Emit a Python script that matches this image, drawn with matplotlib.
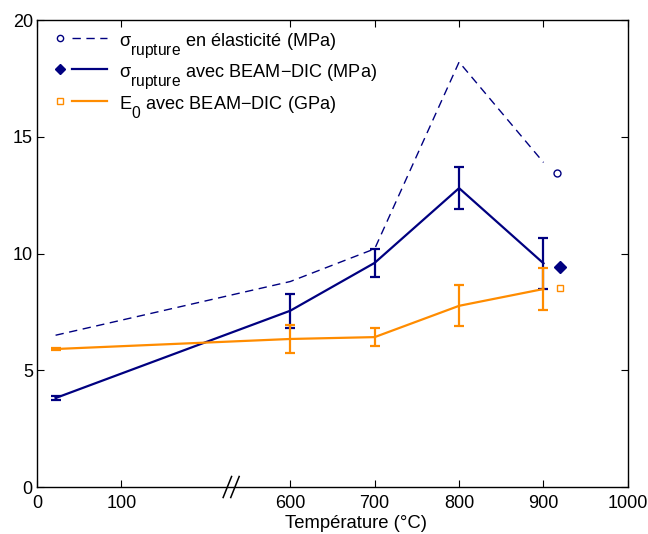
import matplotlib
matplotlib.use("Agg")
import matplotlib.pyplot as plt
from matplotlib.lines import Line2D
from matplotlib.legend_handler import HandlerBase
import matplotlib._mathtext as _mt
import numpy as np

# larger, lower subscripts (like the reference)
_mt.SHRINK_FACTOR = 0.86
try:
    _mt.FontConstantsBase.sub1 = 0.95
    _mt.FontConstantsBase.sub2 = 0.95
except Exception:
    pass

plt.rcParams['font.family'] = ['Liberation Sans', 'DejaVu Sans']
plt.rcParams['mathtext.fontset'] = 'custom'
plt.rcParams['mathtext.rm'] = 'Liberation Sans'
plt.rcParams['mathtext.it'] = 'Liberation Sans:italic'
plt.rcParams['mathtext.bf'] = 'Liberation Sans:bold'

# ---- data ----
temps = [22, 600, 700, 800, 900]
sigma_elast = [6.5, 8.8, 10.2, 18.2, 13.9]
sigma_dic = [3.81, 7.55, 9.6, 12.8, 9.58]
sigma_dic_err = [0.1, 0.72, 0.6, 0.9, 1.08]
e0_dic = [5.91, 6.34, 6.42, 7.76, 8.48]
e0_dic_err = [0.04, 0.6, 0.4, 0.88, 0.9]
# isolated single markers beside the last temperature
marker_temps = [916, 919, 919]
marker_vals = [13.45, 9.43, 8.53]

tick_temps = [0, 100, 600, 700, 800, 900, 1000]
tick_labels = ['0', '100', '600', '700', '800', '900', '1000']
break_pos = 2.3

def tx(t):
    t = np.asarray(t, dtype=float)
    return np.where(t <= 100, t / 100.0, t / 100.0 - 3.0)

navy = '#000080'
orange = '#ff8c00'
DASH = (6, 4)

fig = plt.figure(figsize=(6.48, 5.34), dpi=100)
ax = fig.add_axes([0.0571, 0.088, 0.969 - 0.0571, 0.9625 - 0.088])

x = tx(temps)
ax.plot(x, sigma_elast, color=navy, lw=1.0, dashes=DASH, zorder=2)
ax.errorbar(x, sigma_dic, yerr=sigma_dic_err, color=navy, lw=1.6,
            elinewidth=1.6, capsize=3.8, capthick=1.6, zorder=3)
ax.errorbar(x, e0_dic, yerr=e0_dic_err, color=orange, lw=1.6,
            elinewidth=1.6, capsize=3.8, capthick=1.6, zorder=4)

mx = tx(marker_temps)
ax.plot(mx[0], marker_vals[0], 'o', ms=5, mfc='none', mec=navy, mew=1.0)
ax.plot(mx[1], marker_vals[1], 'D', ms=6, mfc=navy, mec=navy, mew=1.0)
ax.plot(mx[2], marker_vals[2], 's', ms=5, mfc='none', mec=orange, mew=1.0)

ax.set_xlim(0, 7)
ax.set_ylim(0, 20)
ax.set_xticks(tx(tick_temps))
ax.set_xticklabels(tick_labels)
ax.set_yticks([0, 5, 10, 15, 20])
ax.tick_params(direction='in', top=True, right=True, length=5, width=0.8,
               labelsize=13, pad=3)
ax.tick_params(axis='x', pad=6)
for s in ax.spines.values():
    s.set_linewidth(1.0)

fig.text(355.5 / 648, 1 - 524 / 534, 'Température (°C)', fontsize=13.3,
         ha='center', va='center')

# axis break mark
for dx in (-0.045, 0.045):
    ax.plot([break_pos + dx - 0.05, break_pos + dx + 0.05], [-0.45, 0.45],
            color='black', lw=1.1, clip_on=False, zorder=5)

# custom legend: marker then line
class MarkerThenLine(HandlerBase):
    def create_artists(self, legend, orig_handle, xdescent, ydescent,
                       width, height, fontsize, trans):
        mk, ln = orig_handle
        y = height / 2.0 - ydescent + 1.5
        m = Line2D([-xdescent + 8], [y], marker=mk.get_marker(),
                   ms=mk.get_markersize(), mfc=mk.get_markerfacecolor(),
                   mec=mk.get_markeredgecolor(), mew=mk.get_markeredgewidth(),
                   linestyle='none')
        l = Line2D([-xdescent + 17, -xdescent + width], [y, y],
                   color=ln.get_color(), lw=ln.get_linewidth(),
                   linestyle=ln.get_linestyle())
        if ln.get_linestyle() == '--':
            l.set_dashes(DASH)
        m.set_transform(trans)
        l.set_transform(trans)
        return [l, m]

h1 = (Line2D([], [], marker='o', ms=4.5, mfc='none', mec=navy, mew=1.0),
      Line2D([], [], color=navy, lw=1.0, linestyle='--'))
h2 = (Line2D([], [], marker='D', ms=5.5, mfc=navy, mec=navy),
      Line2D([], [], color=navy, lw=1.6))
h3 = (Line2D([], [], marker='s', ms=4.5, mfc='none', mec=orange, mew=1.0),
      Line2D([], [], color=orange, lw=1.6))
labels = [r'σ$_{\mathrm{rupture}}$ en élasticité (MPa)',
          r'σ$_{\mathrm{rupture}}$ avec BEAM−DIC (MPa)',
          r'E$_{\mathrm{0}}$ avec BEAM−DIC (GPa)']
ax.legend([h1, h2, h3], labels, handler_map={tuple: MarkerThenLine()},
          loc='upper left', frameon=False, fontsize=13.1, handlelength=3.2,
          handletextpad=0.65, labelspacing=0.12, borderaxespad=0.25,
          bbox_to_anchor=(0.0, 1.0))

fig.savefig('out.png', dpi=100)
